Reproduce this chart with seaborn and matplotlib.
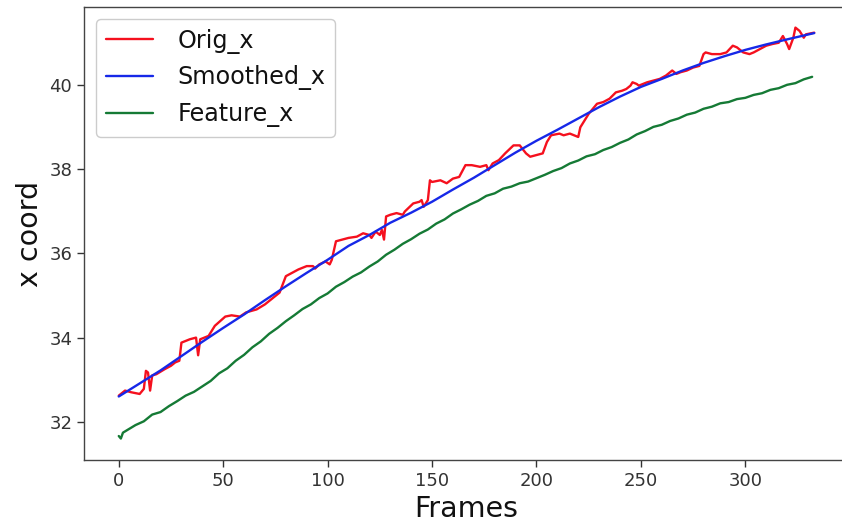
import matplotlib
matplotlib.use("Agg")
import matplotlib.pyplot as plt
import seaborn as sns
import pandas as pd

# ---- data ----
orig_frames = [0, 1, 3, 6, 10, 12, 13, 14, 15, 16, 18, 22, 25, 27, 29, 30, 34, 37, 38, 39,
               43, 46, 51, 54, 58, 61, 66, 70, 74, 77, 80, 83, 86, 90, 93, 94, 96, 99, 101, 102,
               104, 107, 110, 114, 117, 120, 121, 123, 125, 126, 127, 128, 130, 133, 136, 137, 141, 144, 145, 146,
               148, 149, 150, 154, 157, 160, 163, 166, 169, 173, 176, 177, 179, 182, 185, 189, 192, 195, 197, 200,
               203, 205, 207, 211, 213, 216, 218, 220, 221, 224, 225, 227, 229, 232, 235, 238, 241, 243, 245, 246,
               248, 249, 253, 256, 259, 262, 264, 265, 267, 269, 272, 275, 278, 280, 281, 284, 288, 291, 294, 296,
               299, 302, 304, 307, 310, 313, 316, 318, 320, 321, 323, 324, 326, 328, 329, 333]
orig_x = [32.62, 32.66, 32.74, 32.70, 32.66, 32.78, 33.21, 33.17, 32.74, 33.10, 33.13, 33.25, 33.33, 33.41, 33.45, 33.88, 33.96, 34.00, 33.58, 33.96,
          34.04, 34.28, 34.50, 34.53, 34.50, 34.60, 34.67, 34.79, 34.95, 35.07, 35.46, 35.54, 35.62, 35.70, 35.70, 35.64, 35.74, 35.81, 35.74, 35.85,
          36.29, 36.33, 36.37, 36.40, 36.48, 36.44, 36.37, 36.52, 36.44, 36.56, 36.33, 36.88, 36.92, 36.96, 36.92, 37.00, 37.19, 37.23, 37.27, 37.11,
          37.27, 37.74, 37.70, 37.74, 37.67, 37.78, 37.82, 38.10, 38.10, 38.06, 38.10, 37.98, 38.14, 38.22, 38.38, 38.57, 38.57, 38.38, 38.30, 38.34,
          38.38, 38.65, 38.81, 38.85, 38.81, 38.85, 38.81, 38.77, 39.00, 39.24, 39.32, 39.44, 39.56, 39.60, 39.68, 39.83, 39.87, 39.91, 39.99, 40.07,
          40.03, 39.99, 40.07, 40.11, 40.15, 40.23, 40.31, 40.35, 40.27, 40.31, 40.35, 40.42, 40.46, 40.74, 40.78, 40.74, 40.74, 40.78, 40.94, 40.90,
          40.78, 40.74, 40.78, 40.86, 40.94, 40.98, 41.01, 41.17, 40.98, 40.86, 41.13, 41.37, 41.29, 41.13, 41.21, 41.25]

smooth_frames = [0, 10, 20, 30, 40, 50, 60, 70, 80, 90, 100, 110, 120, 130, 140, 150, 160,
                 170, 180, 190, 200, 210, 220, 230, 240, 250, 260, 270, 280, 290, 300, 310, 320, 333]
smoothed_x = [32.60, 32.91, 33.22, 33.56, 33.90, 34.23, 34.55, 34.89, 35.22, 35.54, 35.85, 36.18,
              36.44, 36.73, 36.97, 37.23, 37.52, 37.80, 38.10, 38.40, 38.68, 38.94, 39.21, 39.48,
              39.73, 39.96, 40.15, 40.35, 40.53, 40.69, 40.84, 40.97, 41.09, 41.24]

feat_frames = [0, 1, 2, 4, 8, 12, 16, 20, 24, 28, 32, 36, 40, 44, 48, 52, 56, 60, 64, 68, 72, 76,
               80, 84, 88, 92, 96, 100, 104, 108, 112, 116, 120, 124, 128, 132, 136, 140, 144, 148,
               152, 156, 160, 164, 168, 172, 176, 180, 184, 188, 192, 196, 200, 204, 208, 212, 216,
               220, 224, 228, 232, 236, 240, 244, 248, 252, 256, 260, 264, 268, 272, 276, 280, 284,
               288, 292, 296, 300, 304, 308, 312, 316, 320, 324, 328, 332]
feature_x = [31.66, 31.60, 31.74, 31.80, 31.92, 32.01, 32.17, 32.23, 32.37, 32.49, 32.62, 32.71,
             32.84, 32.97, 33.15, 33.27, 33.45, 33.59, 33.77, 33.91, 34.09, 34.23, 34.39, 34.53,
             34.68, 34.79, 34.94, 35.05, 35.21, 35.32, 35.45, 35.55, 35.69, 35.81, 35.97, 36.09,
             36.23, 36.34, 36.47, 36.57, 36.71, 36.81, 36.95, 37.05, 37.16, 37.25, 37.37, 37.43,
             37.54, 37.59, 37.67, 37.71, 37.79, 37.87, 37.96, 38.03, 38.14, 38.21, 38.31, 38.36,
             38.46, 38.53, 38.63, 38.71, 38.83, 38.91, 39.01, 39.06, 39.15, 39.21, 39.30, 39.35,
             39.44, 39.49, 39.57, 39.60, 39.67, 39.70, 39.77, 39.81, 39.89, 39.93, 40.01, 40.05,
             40.14, 40.20]

df_orig = pd.DataFrame({"Frames": orig_frames, "x coord": orig_x})
df_smooth = pd.DataFrame({"Frames": smooth_frames, "x coord": smoothed_x})
df_feat = pd.DataFrame({"Frames": feat_frames, "x coord": feature_x})

sns.set_theme(style="ticks")
plt.rcParams["font.family"] = ["DejaVu Sans"]

fig = plt.figure(figsize=(8.42, 5.25), dpi=100)
ax = fig.add_axes([84 / 842, 1 - 460 / 525, (849 - 84) / 842, (460 - 7) / 525])

sns.lineplot(data=df_orig, x="Frames", y="x coord", color="#f5101e", linewidth=1.7,
             label="Orig_x", ax=ax, estimator=None)
sns.lineplot(data=df_smooth, x="Frames", y="x coord", color="#1628e8", linewidth=1.7,
             label="Smoothed_x", ax=ax, estimator=None)
sns.lineplot(data=df_feat, x="Frames", y="x coord", color="#157a35", linewidth=1.7,
             label="Feature_x", ax=ax, estimator=None)

ax.set_xlim(-16.65, 349.65)
ax.set_ylim(31.09, 41.86)
ax.set_xticks([0, 50, 100, 150, 200, 250, 300])
ax.set_yticks([32, 34, 36, 38, 40])
ax.tick_params(axis="both", labelsize=13, length=5, width=1, colors="#333333")
ax.set_xlabel("Frames", fontsize=20.5, color="#111111")
ax.set_ylabel("x coord", fontsize=20.5, color="#111111")
for s in ax.spines.values():
    s.set_color("#444444")
    s.set_linewidth(1.0)
ax.spines["right"].set_visible(False)

leg = ax.legend(loc="upper left", fontsize=17.2, frameon=True, fancybox=True,
                framealpha=1.0, edgecolor="#cccccc", handlelength=2.0,
                handletextpad=1.0, borderaxespad=0.5)
for t in leg.get_texts():
    t.set_color("#111111")

fig.savefig("out.png", dpi=100)
